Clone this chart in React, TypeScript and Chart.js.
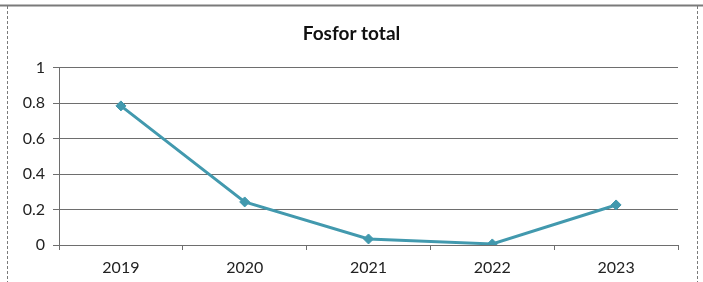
import React, { useEffect, useRef } from "react";
import { Chart, registerables } from "chart.js";

Chart.register(...registerables);

const categories = ["2019", "2020", "2021", "2022", "2023"];
const values = [0.785, 0.243, 0.034, 0.006, 0.226];
const yTicks = [0, 0.2, 0.4, 0.6, 0.8, 1];
const titleText = "Fosfor total";

const frame = {
  id: "frame",
  beforeDraw(chart: any) {
    const ctx = chart.ctx;
    ctx.save();
    ctx.fillStyle = "#ffffff";
    ctx.fillRect(0, 0, chart.width, chart.height);
    ctx.strokeStyle = "#7a7a7a";
    ctx.lineWidth = 2;
    ctx.beginPath();
    ctx.moveTo(0, 5.5);
    ctx.lineTo(chart.width, 5.5);
    ctx.stroke();
    ctx.lineWidth = 1;
    ctx.setLineDash([3, 2]);
    ctx.beginPath();
    ctx.moveTo(7.5, 6);
    ctx.lineTo(7.5, chart.height);
    ctx.moveTo(697.5, 6);
    ctx.lineTo(697.5, chart.height);
    ctx.stroke();
    ctx.restore();
  },
};

export default function App() {
  const ref = useRef<HTMLCanvasElement>(null);
  useEffect(() => {
    const chart = new Chart(ref.current!, {
      type: "line",
      data: {
        labels: categories,
        datasets: [
          {
            data: values,
            borderColor: "#4299ae",
            backgroundColor: "#4299ae",
            borderWidth: 3,
            pointStyle: "rectRot",
            pointRadius: 5,
            pointBorderWidth: 1,
            tension: 0,
          },
        ],
      },
      options: {
        animation: false,
        responsive: false,
        maintainAspectRatio: false,
        layout: { padding: 0 },
        plugins: {
          legend: { display: false },
          tooltip: { enabled: false },
          title: {
            display: true,
            text: titleText,
            color: "#111",
            font: { family: "Lato", size: 19, weight: "bold" },
            padding: { top: 22, bottom: 23 },
          },
        },
        scales: {
          x: {
            offset: true,
            grid: {
              offset: true,
              drawOnChartArea: false,
              drawTicks: true,
              tickLength: 5,
              color: "#6e6e6e",
            },
            border: { display: true, color: "#6e6e6e", width: 1 },
            ticks: {
              color: "#222",
              font: { family: "Lato", size: 16 },
              padding: 8,
              maxRotation: 0,
            },
            afterFit(scale: any) {
              scale.height = 37;
            },
          },
          y: {
            min: 0,
            max: 1,
            afterBuildTicks(scale: any) {
              scale.ticks = yTicks.map((v) => ({ value: v }));
            },
            grid: {
              color: "#6e6e6e",
              tickLength: 6,
              lineWidth: 1,
            },
            border: { display: true, color: "#6e6e6e", width: 1 },
            ticks: {
              color: "#222",
              font: { family: "Lato", size: 16 },
              padding: 8,
              callback: (v: any) => String(v),
            },
            afterFit(scale: any) {
              scale.width = 59;
            },
          },
          yRight: {
            position: "right",
            display: true,
            grid: { display: false, drawTicks: false },
            border: { display: false },
            ticks: { display: false },
            afterFit(scale: any) {
              scale.width = 25;
            },
          },
        },
      },
      plugins: [frame],
    });
    return () => chart.destroy();
  }, []);
  return (
    <div style={{ position: "fixed", left: 0, top: 0, width: 703, height: 282 }}>
      <canvas ref={ref} width={703} height={282} />
    </div>
  );
}
